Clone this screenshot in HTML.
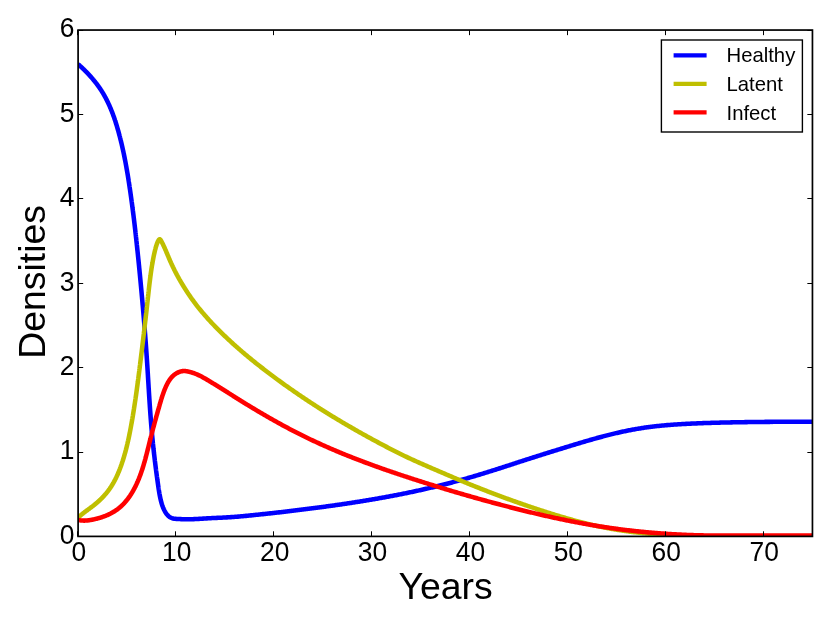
<!DOCTYPE html>
<html><head><meta charset="utf-8"><title>Densities vs Years</title>
<style>
html,body{margin:0;padding:0;background:#fff;}
body{width:830px;height:626px;overflow:hidden;}
svg{display:block;will-change:transform;}
text{font-family:"Liberation Sans",sans-serif;fill:#000;}
</style></head><body>
<svg width="830" height="626" viewBox="0 0 830 626">
<rect x="0" y="0" width="830" height="626" fill="#fff"/>
<defs><clipPath id="ax"><rect x="78.1" y="30.05" width="734.35" height="506.34999999999997"/></clipPath></defs>

<g clip-path="url(#ax)" fill="none" stroke-width="4.55" stroke-linejoin="round" stroke-linecap="butt">
<path d="M78.01 64.10 L78.38 64.43 L78.75 64.76 L79.12 65.08 L79.49 65.41 L79.85 65.75 L80.22 66.08 L80.59 66.41 L80.95 66.75 L81.31 67.09 L81.68 67.43 L82.04 67.77 L82.40 68.11 L82.76 68.45 L83.13 68.80 L83.48 69.14 L83.84 69.49 L84.20 69.84 L84.56 70.19 L84.91 70.54 L85.27 70.90 L85.62 71.25 L85.97 71.61 L86.33 71.97 L86.68 72.33 L87.03 72.69 L87.37 73.05 L87.72 73.41 L88.07 73.78 L88.41 74.14 L88.76 74.51 L89.10 74.88 L89.44 75.25 L89.78 75.62 L90.12 76.00 L90.45 76.37 L90.79 76.75 L91.12 77.12 L91.45 77.50 L91.78 77.88 L92.11 78.26 L92.44 78.65 L92.77 79.03 L93.09 79.42 L93.42 79.80 L93.74 80.19 L94.06 80.58 L94.38 80.97 L94.69 81.36 L95.01 81.76 L95.32 82.15 L95.63 82.55 L95.94 82.95 L96.25 83.34 L96.55 83.74 L96.86 84.15 L97.16 84.55 L97.46 84.95 L97.76 85.36 L98.06 85.76 L98.35 86.17 L98.64 86.58 L98.93 86.99 L99.22 87.40 L99.51 87.81 L99.79 88.23 L100.07 88.64 L100.35 89.06 L100.63 89.47 L100.90 89.89 L101.18 90.31 L101.45 90.73 L101.72 91.16 L101.98 91.58 L102.25 92.00 L102.51 92.43 L102.77 92.86 L103.03 93.29 L103.28 93.72 L103.54 94.15 L103.79 94.58 L104.04 95.01 L104.28 95.44 L104.53 95.88 L104.77 96.31 L105.01 96.75 L105.25 97.19 L105.49 97.63 L105.72 98.07 L105.95 98.51 L106.19 98.95 L106.41 99.39 L106.64 99.84 L106.87 100.28 L107.09 100.73 L107.31 101.18 L107.53 101.62 L107.75 102.07 L107.96 102.52 L108.18 102.97 L108.39 103.42 L108.60 103.87 L108.81 104.33 L109.02 104.78 L109.22 105.24 L109.42 105.69 L109.63 106.15 L109.83 106.61 L110.03 107.06 L110.22 107.52 L110.42 107.98 L110.61 108.44 L110.80 108.90 L110.99 109.36 L111.18 109.83 L111.37 110.29 L111.56 110.75 L111.74 111.22 L111.92 111.68 L112.10 112.15 L112.28 112.62 L112.46 113.08 L112.64 113.55 L112.81 114.02 L112.99 114.49 L113.16 114.96 L113.33 115.43 L113.50 115.90 L113.67 116.37 L113.84 116.84 L114.01 117.31 L114.17 117.79 L114.33 118.26 L114.50 118.73 L114.66 119.21 L114.82 119.68 L114.97 120.16 L115.13 120.63 L115.29 121.11 L115.44 121.59 L115.60 122.06 L115.75 122.54 L115.90 123.02 L116.05 123.50 L116.20 123.97 L116.35 124.45 L116.50 124.93 L116.64 125.41 L116.79 125.89 L116.93 126.37 L117.08 126.85 L117.22 127.33 L117.36 127.81 L117.50 128.30 L117.64 128.78 L117.78 129.26 L117.92 129.74 L118.05 130.22 L118.19 130.71 L118.33 131.19 L118.46 131.67 L118.59 132.15 L118.73 132.64 L118.86 133.12 L118.99 133.60 L119.12 134.09 L119.25 134.57 L119.38 135.06 L119.51 135.54 L119.63 136.03 L119.76 136.51 L119.89 136.99 L120.01 137.48 L120.14 137.96 L120.26 138.45 L120.38 138.94 L120.50 139.42 L120.62 139.91 L120.75 140.39 L120.87 140.88 L120.98 141.36 L121.10 141.85 L121.22 142.34 L121.34 142.82 L121.45 143.31 L121.57 143.80 L121.69 144.28 L121.80 144.77 L121.91 145.26 L122.03 145.75 L122.14 146.23 L122.25 146.72 L122.36 147.21 L122.47 147.70 L122.58 148.19 L122.69 148.67 L122.80 149.16 L122.91 149.65 L123.01 150.14 L123.12 150.63 L123.23 151.12 L123.33 151.61 L123.44 152.10 L123.54 152.59 L123.64 153.08 L123.75 153.57 L123.85 154.05 L123.95 154.54 L124.05 155.03 L124.15 155.52 L124.25 156.02 L124.35 156.51 L124.45 157.00 L124.55 157.49 L124.65 157.98 L124.74 158.47 L124.84 158.96 L124.94 159.45 L125.03 159.94 L125.13 160.43 L125.22 160.92 L125.32 161.41 L125.41 161.91 L125.50 162.40 L125.60 162.89 L125.69 163.38 L125.78 163.87 L125.87 164.36 L125.96 164.86 L126.05 165.35 L126.14 165.84 L126.23 166.33 L126.32 166.83 L126.41 167.32 L126.49 167.81 L126.58 168.30 L126.67 168.80 L126.75 169.29 L126.84 169.78 L126.93 170.28 L127.01 170.77 L127.10 171.26 L127.18 171.76 L127.26 172.25 L127.35 172.74 L127.43 173.24 L127.51 173.73 L127.60 174.22 L127.68 174.72 L127.76 175.21 L127.84 175.70 L127.92 176.20 L128.00 176.69 L128.08 177.19 L128.16 177.68 L128.24 178.17 L128.32 178.67 L128.40 179.16 L128.48 179.66 L128.56 180.15 L128.63 180.65 L128.71 181.14 L128.79 181.63 L128.86 182.13 L128.94 182.62 L129.02 183.12 L129.09 183.61 L129.17 184.11 L129.24 184.60 L129.32 185.10 L129.39 185.59 L129.47 186.09 L129.54 186.58 L129.61 187.08 L129.69 187.57 L129.76 188.07 L129.83 188.56 L129.91 189.06 L129.98 189.55 L130.05 190.05 L130.12 190.54 L130.20 191.04 L130.27 191.53 L130.34 192.03 L130.41 192.53 L130.48 193.02 L130.55 193.52 L130.62 194.01 L130.69 194.51 L130.76 195.00 L130.83 195.50 L130.90 195.99 L130.97 196.49 L131.04 196.99 L131.11 197.48 L131.18 197.98 L131.25 198.47 L131.32 198.97 L131.38 199.46 L131.45 199.96 L131.52 200.46 L131.59 200.95 L131.65 201.45 L131.72 201.94 L131.79 202.44 L131.86 202.94 L131.92 203.43 L131.99 203.93 L132.05 204.42 L132.12 204.92 L132.19 205.42 L132.25 205.91 L132.32 206.41 L132.38 206.90 L132.45 207.40 L132.51 207.90 L132.58 208.39 L132.64 208.89 L132.70 209.38 L132.77 209.88 L132.83 210.38 L132.90 210.87 L132.96 211.37 L133.02 211.87 L133.08 212.36 L133.15 212.86 L133.21 213.36 L133.27 213.85 L133.34 214.35 L133.40 214.85 L133.46 215.34 L133.52 215.84 L133.58 216.34 L133.64 216.83 L133.71 217.33 L133.77 217.83 L133.83 218.32 L133.89 218.82 L133.95 219.32 L134.01 219.81 L134.07 220.31 L134.13 220.81 L134.19 221.30 L134.25 221.80 L134.31 222.30 L134.37 222.79 L134.43 223.29 L134.49 223.79 L134.55 224.28 L134.60 224.78 L134.66 225.28 L134.72 225.78 L134.78 226.27 L134.84 226.77 L134.90 227.27 L134.95 227.76 L135.01 228.26 L135.07 228.76 L135.13 229.25 L135.18 229.75 L135.24 230.25 L135.30 230.75 L135.35 231.24 L135.41 231.74 L135.47 232.24 L135.52 232.74 L135.58 233.23 L135.64 233.73 L135.69 234.23 L135.75 234.72 L135.80 235.22 L135.86 235.72 L135.91 236.22 L135.97 236.71 L136.03 237.21 L136.08 237.71 L136.14 238.21 L136.19 238.70 L136.24 239.20 L136.30 239.70 L136.35 240.20 L136.41 240.69 L136.46 241.19 L136.52 241.69 L136.57 242.19 L136.62 242.68 L136.68 243.18 L136.73 243.68 L136.78 244.18 L136.84 244.67 L136.89 245.17 L136.94 245.67 L137.00 246.17 L137.05 246.66 L137.10 247.16 L137.16 247.66 L137.21 248.16 L137.26 248.65 L137.31 249.15 L137.36 249.65 L137.42 250.15 L137.47 250.65 L137.52 251.14 L137.57 251.64 L137.62 252.14 L137.68 252.64 L137.73 253.13 L137.78 253.63 L137.83 254.13 L137.88 254.63 L137.93 255.13 L137.98 255.62 L138.03 256.12 L138.09 256.62 L138.14 257.12 L138.19 257.62 L138.24 258.11 L138.29 258.61 L138.34 259.11 L138.39 259.61 L138.44 260.10 L138.49 260.60 L138.54 261.10 L138.59 261.60 L138.64 262.10 L138.69 262.59 L138.74 263.09 L138.79 263.59 L138.84 264.09 L138.89 264.59 L138.94 265.08 L138.99 265.58 L139.04 266.08 L139.09 266.58 L139.14 267.08 L139.18 267.57 L139.23 268.07 L139.28 268.57 L139.33 269.07 L139.38 269.57 L139.43 270.06 L139.48 270.56 L139.53 271.06 L139.58 271.56 L139.62 272.06 L139.67 272.56 L139.72 273.05 L139.77 273.55 L139.82 274.05 L139.87 274.55 L139.91 275.05 L139.96 275.54 L140.01 276.04 L140.06 276.54 L140.11 277.04 L140.15 277.54 L140.20 278.03 L140.25 278.53 L140.30 279.03 L140.34 279.53 L140.39 280.03 L140.44 280.52 L140.49 281.02 L140.53 281.52 L140.58 282.02 L140.63 282.52 L140.68 283.02 L140.72 283.51 L140.77 284.01 L140.82 284.51 L140.86 285.01 L140.91 285.51 L140.96 286.01 L141.00 286.50 L141.05 287.00 L141.10 287.50 L141.14 288.00 L141.19 288.50 L141.24 288.99 L141.28 289.49 L141.33 289.99 L141.37 290.49 L141.42 290.99 L141.47 291.49 L141.51 291.98 L141.56 292.48 L141.60 292.98 L141.65 293.48 L141.70 293.98 L141.74 294.48 L141.79 294.97 L141.83 295.47 L141.88 295.97 L141.92 296.47 L141.97 296.97 L142.01 297.47 L142.06 297.96 L142.10 298.46 L142.15 298.96 L142.19 299.46 L142.24 299.96 L142.28 300.46 L142.32 300.95 L142.37 301.45 L142.41 301.95 L142.46 302.45 L142.50 302.95 L142.55 303.45 L142.59 303.95 L142.63 304.44 L142.68 304.94 L142.72 305.44 L142.77 305.94 L142.81 306.44 L142.85 306.94 L142.90 307.43 L142.94 307.93 L142.98 308.43 L143.03 308.93 L143.07 309.43 L143.11 309.93 L143.15 310.43 L143.20 310.92 L143.24 311.42 L143.28 311.92 L143.32 312.42 L143.37 312.92 L143.41 313.42 L143.45 313.92 L143.49 314.41 L143.54 314.91 L143.58 315.41 L143.62 315.91 L143.66 316.41 L143.70 316.91 L143.75 317.41 L143.79 317.90 L143.83 318.40 L143.87 318.90 L143.91 319.40 L143.95 319.90 L143.99 320.40 L144.03 320.90 L144.08 321.40 L144.12 321.89 L144.16 322.39 L144.20 322.89 L144.24 323.39 L144.28 323.89 L144.32 324.39 L144.36 324.89 L144.40 325.39 L144.44 325.88 L144.48 326.38 L144.52 326.88 L144.56 327.38 L144.60 327.88 L144.64 328.38 L144.68 328.88 L144.72 329.38 L144.76 329.87 L144.80 330.37 L144.84 330.87 L144.87 331.37 L144.91 331.87 L144.95 332.37 L144.99 332.87 L145.03 333.37 L145.07 333.87 L145.11 334.36 L145.15 334.86 L145.18 335.36 L145.22 335.86 L145.26 336.36 L145.30 336.86 L145.34 337.36 L145.37 337.86 L145.41 338.36 L145.45 338.85 L145.49 339.35 L145.52 339.85 L145.56 340.35 L145.60 340.85 L145.63 341.35 L145.67 341.85 L145.71 342.35 L145.75 342.85 L145.78 343.35 L145.82 343.85 L145.85 344.34 L145.89 344.84 L145.93 345.34 L145.96 345.84 L146.00 346.34 L146.04 346.84 L146.07 347.34 L146.11 347.84 L146.14 348.34 L146.18 348.84 L146.21 349.34 L146.25 349.83 L146.28 350.33 L146.32 350.83 L146.35 351.33 L146.39 351.83 L146.42 352.33 L146.46 352.83 L146.49 353.33 L146.53 353.83 L146.56 354.33 L146.59 354.83 L146.63 355.33 L146.66 355.83 L146.70 356.33 L146.73 356.82 L146.76 357.32 L146.80 357.82 L146.83 358.32 L146.86 358.82 L146.90 359.32 L146.93 359.82 L146.96 360.32 L146.99 360.82 L147.03 361.32 L147.06 361.82 L147.09 362.32 L147.13 362.82 L147.16 363.32 L147.19 363.82 L147.22 364.32 L147.25 364.81 L147.29 365.31 L147.32 365.81 L147.35 366.31 L147.38 366.81 L147.41 367.31 L147.44 367.81 L147.48 368.31 L147.51 368.81 L147.54 369.31 L147.57 369.81 L147.60 370.31 L147.63 370.81 L147.66 371.31 L147.69 371.81 L147.72 372.31 L147.76 372.81 L147.79 373.31 L147.82 373.81 L147.85 374.31 L147.88 374.80 L147.91 375.30 L147.94 375.80 L147.97 376.30 L148.00 376.80 L148.03 377.30 L148.06 377.80 L148.09 378.30 L148.12 378.80 L148.15 379.30 L148.18 379.80 L148.22 380.30 L148.25 380.80 L148.28 381.30 L148.31 381.80 L148.34 382.30 L148.37 382.80 L148.40 383.30 L148.43 383.80 L148.46 384.30 L148.49 384.80 L148.52 385.30 L148.55 385.80 L148.58 386.29 L148.61 386.79 L148.64 387.29 L148.67 387.79 L148.70 388.29 L148.74 388.79 L148.77 389.29 L148.80 389.79 L148.83 390.29 L148.86 390.79 L148.89 391.29 L148.92 391.79 L148.95 392.29 L148.98 392.79 L149.01 393.29 L149.05 393.79 L149.08 394.29 L149.11 394.79 L149.14 395.29 L149.17 395.79 L149.20 396.28 L149.24 396.78 L149.27 397.28 L149.30 397.78 L149.33 398.28 L149.36 398.78 L149.40 399.28 L149.43 399.78 L149.46 400.28 L149.49 400.78 L149.53 401.28 L149.56 401.78 L149.59 402.28 L149.62 402.78 L149.66 403.28 L149.69 403.78 L149.72 404.27 L149.76 404.77 L149.79 405.27 L149.82 405.77 L149.86 406.27 L149.89 406.77 L149.93 407.27 L149.96 407.77 L149.99 408.27 L150.03 408.77 L150.06 409.27 L150.10 409.77 L150.13 410.27 L150.17 410.76 L150.20 411.26 L150.24 411.76 L150.27 412.26 L150.31 412.76 L150.35 413.26 L150.38 413.76 L150.42 414.26 L150.45 414.76 L150.49 415.26 L150.53 415.75 L150.57 416.25 L150.60 416.75 L150.64 417.25 L150.68 417.75 L150.71 418.25 L150.75 418.75 L150.79 419.25 L150.83 419.75 L150.87 420.24 L150.91 420.74 L150.95 421.24 L150.98 421.74 L151.02 422.24 L151.06 422.74 L151.10 423.24 L151.14 423.74 L151.18 424.23 L151.22 424.73 L151.26 425.23 L151.31 425.73 L151.35 426.23 L151.39 426.73 L151.43 427.23 L151.47 427.72 L151.51 428.22 L151.56 428.72 L151.60 429.22 L151.64 429.72 L151.68 430.22 L151.73 430.71 L151.77 431.21 L151.82 431.71 L151.86 432.21 L151.90 432.71 L151.95 433.21 L151.99 433.70 L152.04 434.20 L152.08 434.70 L152.13 435.20 L152.18 435.70 L152.22 436.19 L152.27 436.69 L152.32 437.19 L152.36 437.69 L152.41 438.19 L152.46 438.68 L152.51 439.18 L152.56 439.68 L152.61 440.18 L152.65 440.68 L152.70 441.17 L152.75 441.67 L152.80 442.17 L152.85 442.67 L152.90 443.17 L152.96 443.66 L153.01 444.16 L153.06 444.66 L153.11 445.16 L153.16 445.65 L153.21 446.15 L153.27 446.65 L153.32 447.15 L153.37 447.64 L153.43 448.14 L153.48 448.64 L153.53 449.14 L153.59 449.63 L153.64 450.13 L153.70 450.63 L153.75 451.12 L153.81 451.62 L153.87 452.12 L153.92 452.62 L153.98 453.11 L154.03 453.61 L154.09 454.11 L154.15 454.60 L154.21 455.10 L154.26 455.60 L154.32 456.10 L154.38 456.59 L154.44 457.09 L154.50 457.59 L154.56 458.08 L154.61 458.58 L154.67 459.08 L154.73 459.57 L154.79 460.07 L154.85 460.57 L154.91 461.07 L154.98 461.56 L155.04 462.06 L155.10 462.56 L155.16 463.05 L155.22 463.55 L155.28 464.05 L155.34 464.54 L155.41 465.04 L155.47 465.54 L155.53 466.03 L155.60 466.53 L155.66 467.03 L155.72 467.52 L155.79 468.02 L155.85 468.52 L155.91 469.01 L155.98 469.51 L156.04 470.01 L156.11 470.50 L156.17 471.00 L156.24 471.49 L156.30 471.99 L156.37 472.49 L156.44 472.98 L156.50 473.48 L156.57 473.98 L156.64 474.47 L156.70 474.97 L156.77 475.47 L156.84 475.96 L156.90 476.46 L156.97 476.95 L157.04 477.45 L157.11 477.95 L157.18 478.44 L157.25 478.94 L157.31 479.44 L157.38 479.93 L157.45 480.43 L157.52 480.92 L157.59 481.42 L157.66 481.92 L157.73 482.41 L157.80 482.91 L157.87 483.40 L157.94 483.90 L158.01 484.40 L158.08 484.89 L158.15 485.39 L158.22 485.88 L158.30 486.38 L158.37 486.88 L158.44 487.37 L158.51 487.87 L158.59 488.36 L158.66 488.86 L158.74 489.35 L158.81 489.85 L158.89 490.34 L158.97 490.84 L159.05 491.33 L159.13 491.83 L159.21 492.32 L159.30 492.81 L159.38 493.31 L159.47 493.80 L159.56 494.29 L159.65 494.78 L159.74 495.27 L159.84 495.76 L159.93 496.25 L160.03 496.74 L160.13 497.23 L160.24 497.72 L160.34 498.21 L160.45 498.70 L160.56 499.18 L160.67 499.67 L160.79 500.15 L160.91 500.64 L161.03 501.12 L161.16 501.61 L161.29 502.09 L161.42 502.57 L161.56 503.05 L161.70 503.53 L161.84 504.01 L161.99 504.48 L162.14 504.96 L162.30 505.43 L162.47 505.90 L162.64 506.37 L162.81 506.84 L162.99 507.31 L163.18 507.77 L163.38 508.23 L163.58 508.69 L163.78 509.15 L164.00 509.60 L164.22 510.06 L164.45 510.51 L164.69 510.95 L164.93 511.40 L165.19 511.84 L165.45 512.28 L165.72 512.71 L166.00 513.13 L166.29 513.55 L166.59 513.96 L166.90 514.35 L167.22 514.74 L167.55 515.11 L167.89 515.48 L168.25 515.82 L168.61 516.16 L168.99 516.47 L169.37 516.77 L169.77 517.05 L170.19 517.31 L170.61 517.56 L171.05 517.78 L171.50 517.98 L171.97 518.15 L172.44 518.30 L172.93 518.44 L173.43 518.55 L173.94 518.64 L174.45 518.72 L174.97 518.78 L175.50 518.83 L176.03 518.87 L176.56 518.90 L177.09 518.93 L177.62 518.95 L178.15 518.98 L178.67 519.01 L179.19 519.03 L179.70 519.06 L180.20 519.09 L180.70 519.12 L181.19 519.14 L181.66 519.16 L182.12 519.18 L182.57 519.20 L183.00 519.22 L184.00 519.25 L185.00 519.27 L186.00 519.28 L187.00 519.29 L188.00 519.29 L189.00 519.28 L190.00 519.26 L191.00 519.24 L192.00 519.21 L193.00 519.18 L194.00 519.14 L195.00 519.10 L196.00 519.05 L197.00 519.00 L198.00 518.95 L199.00 518.89 L200.00 518.83 L201.00 518.77 L202.00 518.71 L203.00 518.64 L204.00 518.58 L205.00 518.52 L206.00 518.45 L207.00 518.39 L208.00 518.33 L209.00 518.27 L210.00 518.21 L211.00 518.16 L212.00 518.10 L213.00 518.05 L214.00 518.01 L215.00 517.96 L216.00 517.92 L217.00 517.87 L218.00 517.83 L219.00 517.79 L220.00 517.74 L221.00 517.69 L222.00 517.65 L223.00 517.60 L224.00 517.55 L225.00 517.49 L226.00 517.44 L227.00 517.38 L228.00 517.31 L229.00 517.25 L230.00 517.18 L231.00 517.11 L232.00 517.05 L233.00 516.98 L234.00 516.91 L235.00 516.84 L236.00 516.77 L237.00 516.69 L238.00 516.61 L239.00 516.53 L240.00 516.44 L241.00 516.35 L242.00 516.26 L243.00 516.16 L244.00 516.07 L245.00 515.97 L246.00 515.88 L247.00 515.78 L248.00 515.68 L249.00 515.58 L250.00 515.48 L251.00 515.38 L252.00 515.28 L253.00 515.17 L254.00 515.07 L255.00 514.97 L256.00 514.86 L257.00 514.76 L258.00 514.65 L259.00 514.55 L260.00 514.44 L261.00 514.34 L262.00 514.23 L263.00 514.13 L264.00 514.02 L265.00 513.91 L266.00 513.80 L267.00 513.70 L268.00 513.59 L269.00 513.48 L270.00 513.37 L271.00 513.26 L272.00 513.15 L273.00 513.04 L274.00 512.93 L275.00 512.82 L276.00 512.71 L277.00 512.60 L278.00 512.48 L279.00 512.37 L280.00 512.26 L281.00 512.14 L282.00 512.03 L283.00 511.91 L284.00 511.80 L285.00 511.68 L286.00 511.56 L287.00 511.44 L288.00 511.32 L289.00 511.20 L290.00 511.08 L291.00 510.96 L292.00 510.84 L293.00 510.72 L294.00 510.60 L295.00 510.48 L296.00 510.35 L297.00 510.23 L298.00 510.11 L299.00 509.98 L300.00 509.86 L301.00 509.74 L302.00 509.61 L303.00 509.49 L304.00 509.36 L305.00 509.24 L306.00 509.11 L307.00 508.99 L308.00 508.86 L309.00 508.73 L310.00 508.61 L311.00 508.48 L312.00 508.35 L313.00 508.22 L314.00 508.09 L315.00 507.96 L316.00 507.83 L317.00 507.70 L318.00 507.57 L319.00 507.44 L320.00 507.31 L321.00 507.17 L322.00 507.04 L323.00 506.91 L324.00 506.77 L325.00 506.64 L326.00 506.50 L327.00 506.36 L328.00 506.23 L329.00 506.09 L330.00 505.95 L331.00 505.81 L332.00 505.67 L333.00 505.53 L334.00 505.39 L335.00 505.24 L336.00 505.10 L337.00 504.96 L338.00 504.81 L339.00 504.67 L340.00 504.52 L341.00 504.38 L342.00 504.23 L343.00 504.08 L344.00 503.94 L345.00 503.79 L346.00 503.64 L347.00 503.49 L348.00 503.34 L349.00 503.19 L350.00 503.03 L351.00 502.88 L352.00 502.73 L353.00 502.57 L354.00 502.42 L355.00 502.26 L356.00 502.11 L357.00 501.95 L358.00 501.79 L359.00 501.63 L360.00 501.47 L361.00 501.31 L362.00 501.15 L363.00 500.99 L364.00 500.83 L365.00 500.66 L366.00 500.50 L367.00 500.33 L368.00 500.17 L369.00 500.00 L370.00 499.83 L371.00 499.66 L372.00 499.50 L373.00 499.33 L374.00 499.15 L375.00 498.98 L376.00 498.81 L377.00 498.64 L378.00 498.46 L379.00 498.29 L380.00 498.11 L381.00 497.93 L382.00 497.76 L383.00 497.58 L384.00 497.40 L385.00 497.22 L386.00 497.04 L387.00 496.85 L388.00 496.67 L389.00 496.49 L390.00 496.30 L391.00 496.11 L392.00 495.93 L393.00 495.74 L394.00 495.55 L395.00 495.36 L396.00 495.16 L397.00 494.97 L398.00 494.78 L399.00 494.58 L400.00 494.38 L401.00 494.18 L402.00 493.98 L403.00 493.78 L404.00 493.58 L405.00 493.38 L406.00 493.17 L407.00 492.97 L408.00 492.76 L409.00 492.55 L410.00 492.34 L411.00 492.13 L412.00 491.92 L413.00 491.71 L414.00 491.49 L415.00 491.28 L416.00 491.06 L417.00 490.84 L418.00 490.62 L419.00 490.40 L420.00 490.18 L421.00 489.96 L422.00 489.73 L423.00 489.51 L424.00 489.28 L425.00 489.05 L426.00 488.83 L427.00 488.60 L428.00 488.36 L429.00 488.13 L430.00 487.90 L431.00 487.66 L432.00 487.43 L433.00 487.19 L434.00 486.95 L435.00 486.71 L436.00 486.47 L437.00 486.22 L438.00 485.98 L439.00 485.73 L440.00 485.49 L441.00 485.24 L442.00 484.99 L443.00 484.74 L444.00 484.49 L445.00 484.24 L446.00 483.98 L447.00 483.73 L448.00 483.47 L449.00 483.21 L450.00 482.96 L451.00 482.69 L452.00 482.43 L453.00 482.17 L454.00 481.90 L455.00 481.64 L456.00 481.37 L457.00 481.10 L458.00 480.83 L459.00 480.55 L460.00 480.28 L461.00 480.00 L462.00 479.72 L463.00 479.44 L464.00 479.16 L465.00 478.88 L466.00 478.60 L467.00 478.31 L468.00 478.02 L469.00 477.73 L470.00 477.44 L471.00 477.15 L472.00 476.86 L473.00 476.56 L474.00 476.27 L475.00 475.97 L476.00 475.67 L477.00 475.37 L478.00 475.07 L479.00 474.77 L480.00 474.47 L481.00 474.16 L482.00 473.86 L483.00 473.55 L484.00 473.24 L485.00 472.94 L486.00 472.63 L487.00 472.32 L488.00 472.00 L489.00 471.69 L490.00 471.38 L491.00 471.07 L492.00 470.75 L493.00 470.43 L494.00 470.12 L495.00 469.80 L496.00 469.48 L497.00 469.16 L498.00 468.85 L499.00 468.53 L500.00 468.21 L501.00 467.88 L502.00 467.56 L503.00 467.24 L504.00 466.92 L505.00 466.59 L506.00 466.27 L507.00 465.95 L508.00 465.62 L509.00 465.30 L510.00 464.97 L511.00 464.65 L512.00 464.32 L513.00 463.99 L514.00 463.67 L515.00 463.34 L516.00 463.01 L517.00 462.69 L518.00 462.36 L519.00 462.04 L520.00 461.71 L521.00 461.39 L522.00 461.06 L523.00 460.74 L524.00 460.42 L525.00 460.09 L526.00 459.77 L527.00 459.45 L528.00 459.13 L529.00 458.81 L530.00 458.48 L531.00 458.16 L532.00 457.84 L533.00 457.53 L534.00 457.21 L535.00 456.89 L536.00 456.57 L537.00 456.25 L538.00 455.94 L539.00 455.62 L540.00 455.30 L541.00 454.99 L542.00 454.67 L543.00 454.36 L544.00 454.04 L545.00 453.73 L546.00 453.41 L547.00 453.10 L548.00 452.79 L549.00 452.47 L550.00 452.16 L551.00 451.85 L552.00 451.54 L553.00 451.23 L554.00 450.92 L555.00 450.61 L556.00 450.30 L557.00 449.99 L558.00 449.68 L559.00 449.37 L560.00 449.06 L561.00 448.75 L562.00 448.45 L563.00 448.14 L564.00 447.83 L565.00 447.52 L566.00 447.22 L567.00 446.91 L568.00 446.61 L569.00 446.30 L570.00 446.00 L571.00 445.69 L572.00 445.39 L573.00 445.08 L574.00 444.78 L575.00 444.48 L576.00 444.18 L577.00 443.87 L578.00 443.57 L579.00 443.27 L580.00 442.97 L581.00 442.67 L582.00 442.38 L583.00 442.08 L584.00 441.78 L585.00 441.49 L586.00 441.19 L587.00 440.90 L588.00 440.61 L589.00 440.32 L590.00 440.03 L591.00 439.74 L592.00 439.46 L593.00 439.17 L594.00 438.89 L595.00 438.61 L596.00 438.33 L597.00 438.05 L598.00 437.77 L599.00 437.49 L600.00 437.22 L601.00 436.95 L602.00 436.68 L603.00 436.41 L604.00 436.15 L605.00 435.89 L606.00 435.63 L607.00 435.37 L608.00 435.11 L609.00 434.86 L610.00 434.61 L611.00 434.36 L612.00 434.11 L613.00 433.87 L614.00 433.63 L615.00 433.39 L616.00 433.15 L617.00 432.92 L618.00 432.69 L619.00 432.46 L620.00 432.24 L621.00 432.02 L622.00 431.80 L623.00 431.58 L624.00 431.37 L625.00 431.16 L626.00 430.95 L627.00 430.75 L628.00 430.55 L629.00 430.35 L630.00 430.15 L631.00 429.96 L632.00 429.77 L633.00 429.59 L634.00 429.40 L635.00 429.22 L636.00 429.05 L637.00 428.88 L638.00 428.71 L639.00 428.54 L640.00 428.38 L641.00 428.22 L642.00 428.06 L643.00 427.91 L644.00 427.76 L645.00 427.62 L646.00 427.47 L647.00 427.33 L648.00 427.20 L649.00 427.07 L650.00 426.93 L651.00 426.81 L652.00 426.68 L653.00 426.56 L654.00 426.44 L655.00 426.33 L656.00 426.22 L657.00 426.11 L658.00 426.00 L659.00 425.89 L660.00 425.79 L661.00 425.69 L662.00 425.59 L663.00 425.50 L664.00 425.41 L665.00 425.32 L666.00 425.23 L667.00 425.14 L668.00 425.06 L669.00 424.98 L670.00 424.90 L671.00 424.82 L672.00 424.75 L673.00 424.68 L674.00 424.60 L675.00 424.54 L676.00 424.47 L677.00 424.40 L678.00 424.34 L679.00 424.28 L680.00 424.22 L681.00 424.16 L682.00 424.10 L683.00 424.04 L684.00 423.99 L685.00 423.94 L686.00 423.88 L687.00 423.83 L688.00 423.78 L689.00 423.73 L690.00 423.68 L691.00 423.63 L692.00 423.59 L693.00 423.54 L694.00 423.50 L695.00 423.45 L696.00 423.41 L697.00 423.37 L698.00 423.33 L699.00 423.29 L700.00 423.25 L701.00 423.21 L702.00 423.17 L703.00 423.14 L704.00 423.10 L705.00 423.07 L706.00 423.03 L707.00 423.00 L708.00 422.97 L709.00 422.93 L710.00 422.90 L711.00 422.87 L712.00 422.84 L713.00 422.81 L714.00 422.78 L715.00 422.76 L716.00 422.73 L717.00 422.70 L718.00 422.67 L719.00 422.65 L720.00 422.62 L721.00 422.60 L722.00 422.57 L723.00 422.55 L724.00 422.53 L725.00 422.50 L726.00 422.48 L727.00 422.46 L728.00 422.44 L729.00 422.42 L730.00 422.40 L731.00 422.38 L732.00 422.36 L733.00 422.34 L734.00 422.33 L735.00 422.31 L736.00 422.29 L737.00 422.27 L738.00 422.25 L739.00 422.24 L740.00 422.22 L741.00 422.20 L742.00 422.19 L743.00 422.17 L744.00 422.15 L745.00 422.14 L746.00 422.12 L747.00 422.11 L748.00 422.09 L749.00 422.08 L750.00 422.06 L751.00 422.05 L752.00 422.03 L753.00 422.02 L754.00 422.01 L755.00 422.00 L756.00 421.98 L757.00 421.97 L758.00 421.96 L759.00 421.95 L760.00 421.94 L761.00 421.93 L762.00 421.92 L763.00 421.91 L764.00 421.90 L765.00 421.89 L766.00 421.88 L767.00 421.88 L768.00 421.87 L769.00 421.86 L770.00 421.86 L771.00 421.85 L772.00 421.85 L773.00 421.84 L774.00 421.84 L775.00 421.83 L776.00 421.83 L777.00 421.83 L778.00 421.82 L779.00 421.82 L780.00 421.82 L781.00 421.81 L782.00 421.81 L783.00 421.81 L784.00 421.81 L785.00 421.81 L786.00 421.80 L787.00 421.80 L788.00 421.80 L789.00 421.80 L790.00 421.80 L791.00 421.80 L792.00 421.80 L793.00 421.80 L794.00 421.80 L795.00 421.80 L796.00 421.80 L797.00 421.80 L798.00 421.80 L799.00 421.80 L800.00 421.80 L801.00 421.80 L802.00 421.80 L803.00 421.80 L804.00 421.80 L805.00 421.80 L806.00 421.80 L807.00 421.80 L808.00 421.80 L809.00 421.80 L810.00 421.80 L811.00 421.80 L812.00 421.80 L812.45 421.80" stroke="#0000ff"/>
<path d="M78.12 517.62 L78.48 517.28 L78.85 516.93 L79.22 516.59 L79.59 516.25 L79.97 515.92 L80.34 515.59 L80.72 515.27 L81.11 514.94 L81.49 514.62 L81.88 514.30 L82.26 513.99 L82.65 513.68 L83.05 513.36 L83.44 513.06 L83.84 512.75 L84.23 512.45 L84.63 512.14 L85.03 511.84 L85.43 511.54 L85.83 511.24 L86.23 510.94 L86.63 510.65 L87.03 510.35 L87.44 510.05 L87.84 509.76 L88.24 509.46 L88.65 509.17 L89.05 508.87 L89.45 508.58 L89.86 508.28 L90.26 507.98 L90.66 507.69 L91.06 507.39 L91.46 507.09 L91.86 506.79 L92.26 506.49 L92.66 506.18 L93.06 505.88 L93.45 505.57 L93.84 505.26 L94.24 504.95 L94.63 504.64 L95.02 504.32 L95.40 504.00 L95.79 503.68 L96.17 503.36 L96.55 503.04 L96.93 502.71 L97.31 502.38 L97.69 502.05 L98.06 501.72 L98.43 501.38 L98.80 501.05 L99.17 500.71 L99.54 500.36 L99.90 500.02 L100.27 499.67 L100.63 499.33 L100.98 498.98 L101.34 498.62 L101.69 498.27 L102.04 497.91 L102.39 497.55 L102.74 497.19 L103.08 496.83 L103.42 496.47 L103.76 496.10 L104.10 495.73 L104.43 495.36 L104.77 494.98 L105.09 494.61 L105.42 494.23 L105.75 493.85 L106.07 493.47 L106.38 493.08 L106.70 492.70 L107.01 492.31 L107.32 491.92 L107.63 491.52 L107.94 491.13 L108.24 490.73 L108.54 490.33 L108.83 489.93 L109.12 489.53 L109.41 489.12 L109.70 488.72 L109.98 488.31 L110.27 487.90 L110.54 487.48 L110.82 487.07 L111.09 486.65 L111.36 486.23 L111.63 485.81 L111.89 485.39 L112.15 484.96 L112.41 484.53 L112.66 484.11 L112.92 483.68 L113.17 483.25 L113.41 482.81 L113.66 482.38 L113.90 481.94 L114.14 481.50 L114.38 481.06 L114.61 480.62 L114.85 480.18 L115.08 479.74 L115.30 479.29 L115.53 478.84 L115.75 478.40 L115.97 477.95 L116.19 477.50 L116.41 477.05 L116.62 476.59 L116.83 476.14 L117.04 475.68 L117.25 475.23 L117.46 474.77 L117.66 474.31 L117.86 473.85 L118.06 473.39 L118.26 472.93 L118.45 472.47 L118.65 472.00 L118.84 471.54 L119.03 471.07 L119.21 470.61 L119.40 470.14 L119.58 469.67 L119.76 469.21 L119.95 468.74 L120.12 468.27 L120.30 467.80 L120.48 467.33 L120.65 466.85 L120.82 466.38 L120.99 465.91 L121.16 465.44 L121.33 464.96 L121.49 464.49 L121.66 464.02 L121.82 463.54 L121.98 463.07 L122.14 462.59 L122.30 462.12 L122.46 461.64 L122.61 461.16 L122.77 460.69 L122.92 460.21 L123.07 459.73 L123.22 459.25 L123.37 458.78 L123.52 458.30 L123.66 457.82 L123.81 457.34 L123.95 456.86 L124.10 456.38 L124.24 455.90 L124.38 455.42 L124.52 454.94 L124.65 454.46 L124.79 453.98 L124.92 453.50 L125.06 453.01 L125.19 452.53 L125.32 452.05 L125.45 451.57 L125.58 451.08 L125.71 450.60 L125.84 450.12 L125.96 449.63 L126.09 449.15 L126.21 448.67 L126.34 448.18 L126.46 447.70 L126.58 447.21 L126.70 446.73 L126.82 446.24 L126.94 445.75 L127.05 445.27 L127.17 444.78 L127.28 444.29 L127.40 443.81 L127.51 443.32 L127.63 442.83 L127.74 442.35 L127.85 441.86 L127.96 441.37 L128.07 440.88 L128.18 440.40 L128.28 439.91 L128.39 439.42 L128.50 438.93 L128.60 438.44 L128.70 437.95 L128.81 437.46 L128.91 436.97 L129.01 436.48 L129.12 435.99 L129.22 435.50 L129.32 435.01 L129.42 434.52 L129.51 434.03 L129.61 433.54 L129.71 433.05 L129.81 432.56 L129.90 432.07 L130.00 431.58 L130.10 431.09 L130.19 430.60 L130.28 430.11 L130.38 429.62 L130.47 429.13 L130.56 428.63 L130.66 428.14 L130.75 427.65 L130.84 427.16 L130.93 426.67 L131.02 426.17 L131.11 425.68 L131.20 425.19 L131.29 424.70 L131.38 424.21 L131.47 423.71 L131.56 423.22 L131.64 422.73 L131.73 422.24 L131.82 421.74 L131.91 421.25 L131.99 420.76 L132.08 420.27 L132.16 419.77 L132.25 419.28 L132.33 418.79 L132.42 418.30 L132.50 417.80 L132.59 417.31 L132.67 416.82 L132.75 416.32 L132.83 415.83 L132.92 415.34 L133.00 414.84 L133.08 414.35 L133.16 413.86 L133.24 413.36 L133.32 412.87 L133.40 412.38 L133.48 411.88 L133.56 411.39 L133.64 410.90 L133.72 410.40 L133.80 409.91 L133.88 409.41 L133.96 408.92 L134.04 408.43 L134.11 407.93 L134.19 407.44 L134.27 406.94 L134.35 406.45 L134.42 405.96 L134.50 405.46 L134.57 404.97 L134.65 404.47 L134.72 403.98 L134.80 403.48 L134.87 402.99 L134.95 402.49 L135.02 402.00 L135.10 401.50 L135.17 401.01 L135.24 400.52 L135.32 400.02 L135.39 399.53 L135.46 399.03 L135.54 398.54 L135.61 398.04 L135.68 397.55 L135.75 397.05 L135.82 396.56 L135.89 396.06 L135.96 395.57 L136.04 395.07 L136.11 394.58 L136.18 394.08 L136.25 393.59 L136.32 393.09 L136.39 392.59 L136.46 392.10 L136.53 391.60 L136.59 391.11 L136.66 390.61 L136.73 390.12 L136.80 389.62 L136.87 389.13 L136.94 388.63 L137.00 388.13 L137.07 387.64 L137.14 387.14 L137.21 386.65 L137.27 386.15 L137.34 385.66 L137.41 385.16 L137.47 384.66 L137.54 384.17 L137.61 383.67 L137.67 383.18 L137.74 382.68 L137.81 382.19 L137.87 381.69 L137.94 381.19 L138.00 380.70 L138.07 380.20 L138.13 379.71 L138.20 379.21 L138.26 378.71 L138.33 378.22 L138.39 377.72 L138.46 377.22 L138.52 376.73 L138.59 376.23 L138.65 375.74 L138.71 375.24 L138.78 374.74 L138.84 374.25 L138.90 373.75 L138.97 373.25 L139.03 372.76 L139.10 372.26 L139.16 371.77 L139.22 371.27 L139.28 370.77 L139.35 370.28 L139.41 369.78 L139.47 369.28 L139.54 368.79 L139.60 368.29 L139.66 367.80 L139.72 367.30 L139.79 366.80 L139.85 366.31 L139.91 365.81 L139.97 365.31 L140.04 364.82 L140.10 364.32 L140.16 363.82 L140.22 363.33 L140.28 362.83 L140.35 362.33 L140.41 361.84 L140.47 361.34 L140.53 360.84 L140.59 360.35 L140.65 359.85 L140.72 359.35 L140.78 358.86 L140.84 358.36 L140.90 357.87 L140.96 357.37 L141.02 356.87 L141.08 356.38 L141.15 355.88 L141.21 355.38 L141.27 354.89 L141.33 354.39 L141.39 353.89 L141.45 353.40 L141.51 352.90 L141.57 352.40 L141.63 351.91 L141.69 351.41 L141.75 350.91 L141.81 350.42 L141.87 349.92 L141.93 349.42 L141.99 348.93 L142.05 348.43 L142.11 347.93 L142.17 347.44 L142.23 346.94 L142.29 346.44 L142.35 345.95 L142.41 345.45 L142.47 344.95 L142.53 344.46 L142.59 343.96 L142.65 343.46 L142.71 342.97 L142.77 342.47 L142.83 341.97 L142.89 341.47 L142.95 340.98 L143.01 340.48 L143.07 339.98 L143.13 339.49 L143.19 338.99 L143.25 338.49 L143.31 338.00 L143.37 337.50 L143.42 337.00 L143.48 336.51 L143.54 336.01 L143.60 335.51 L143.66 335.02 L143.72 334.52 L143.78 334.02 L143.84 333.53 L143.89 333.03 L143.95 332.53 L144.01 332.04 L144.07 331.54 L144.13 331.04 L144.19 330.55 L144.24 330.05 L144.30 329.55 L144.36 329.05 L144.42 328.56 L144.48 328.06 L144.53 327.56 L144.59 327.07 L144.65 326.57 L144.71 326.07 L144.76 325.58 L144.82 325.08 L144.88 324.58 L144.94 324.09 L145.00 323.59 L145.05 323.09 L145.11 322.60 L145.17 322.10 L145.22 321.60 L145.28 321.10 L145.34 320.61 L145.40 320.11 L145.45 319.61 L145.51 319.12 L145.57 318.62 L145.62 318.12 L145.68 317.63 L145.74 317.13 L145.80 316.63 L145.85 316.14 L145.91 315.64 L145.97 315.14 L146.02 314.65 L146.08 314.15 L146.13 313.65 L146.19 313.15 L146.25 312.66 L146.30 312.16 L146.36 311.66 L146.42 311.17 L146.47 310.67 L146.53 310.17 L146.59 309.68 L146.64 309.18 L146.70 308.68 L146.75 308.19 L146.81 307.69 L146.87 307.19 L146.92 306.69 L146.98 306.20 L147.03 305.70 L147.09 305.20 L147.14 304.71 L147.20 304.21 L147.26 303.71 L147.31 303.22 L147.37 302.72 L147.42 302.22 L147.48 301.73 L147.53 301.23 L147.59 300.73 L147.64 300.23 L147.70 299.74 L147.75 299.24 L147.81 298.74 L147.86 298.25 L147.92 297.75 L147.97 297.25 L148.03 296.76 L148.08 296.26 L148.14 295.76 L148.19 295.27 L148.25 294.77 L148.30 294.27 L148.36 293.78 L148.41 293.28 L148.47 292.78 L148.52 292.28 L148.58 291.79 L148.63 291.29 L148.69 290.79 L148.75 290.30 L148.80 289.80 L148.86 289.30 L148.91 288.81 L148.97 288.31 L149.03 287.81 L149.08 287.32 L149.14 286.82 L149.20 286.32 L149.25 285.83 L149.31 285.33 L149.37 284.83 L149.43 284.34 L149.49 283.84 L149.55 283.34 L149.61 282.85 L149.67 282.35 L149.73 281.85 L149.79 281.36 L149.85 280.86 L149.91 280.37 L149.97 279.87 L150.03 279.37 L150.09 278.88 L150.16 278.38 L150.22 277.88 L150.28 277.39 L150.35 276.89 L150.41 276.40 L150.48 275.90 L150.55 275.41 L150.61 274.91 L150.68 274.41 L150.75 273.92 L150.82 273.42 L150.89 272.93 L150.96 272.43 L151.03 271.94 L151.10 271.44 L151.17 270.94 L151.24 270.45 L151.32 269.95 L151.39 269.46 L151.46 268.96 L151.54 268.47 L151.62 267.97 L151.69 267.48 L151.77 266.98 L151.85 266.49 L151.93 265.99 L152.01 265.50 L152.09 265.00 L152.17 264.51 L152.26 264.01 L152.34 263.52 L152.43 263.03 L152.51 262.53 L152.60 262.04 L152.69 261.54 L152.78 261.05 L152.87 260.55 L152.96 260.06 L153.05 259.57 L153.14 259.07 L153.23 258.58 L153.33 258.09 L153.43 257.59 L153.52 257.10 L153.62 256.61 L153.72 256.11 L153.82 255.62 L153.92 255.13 L154.03 254.64 L154.13 254.15 L154.24 253.66 L154.35 253.17 L154.46 252.68 L154.57 252.20 L154.68 251.71 L154.80 251.23 L154.92 250.74 L155.04 250.26 L155.16 249.78 L155.28 249.30 L155.41 248.83 L155.53 248.35 L155.66 247.88 L155.80 247.41 L155.93 246.94 L156.07 246.47 L156.21 246.01 L156.35 245.55 L156.49 245.09 L156.64 244.63 L156.79 244.17 L156.95 243.72 L157.12 243.25 L157.31 242.78 L157.52 242.29 L157.76 241.78 L158.02 241.25 L158.32 240.69 L158.66 240.13 L159.01 239.64 L159.36 239.29 L159.70 239.16 L160.02 239.28 L160.33 239.58 L160.61 240.00 L160.89 240.47 L161.16 240.93 L161.41 241.39 L161.67 241.85 L161.91 242.30 L162.15 242.76 L162.38 243.20 L162.61 243.65 L162.83 244.10 L163.05 244.55 L163.27 245.00 L163.48 245.45 L163.70 245.90 L163.91 246.35 L164.12 246.80 L164.32 247.25 L164.53 247.71 L164.73 248.17 L164.93 248.62 L165.13 249.08 L165.33 249.54 L165.53 250.00 L165.73 250.46 L165.93 250.92 L166.12 251.38 L166.32 251.84 L166.51 252.30 L166.70 252.76 L166.90 253.22 L167.09 253.68 L167.28 254.15 L167.47 254.61 L167.67 255.07 L167.86 255.53 L168.05 255.99 L168.25 256.46 L168.44 256.92 L168.63 257.38 L168.83 257.84 L169.02 258.30 L169.22 258.76 L169.42 259.22 L169.61 259.68 L169.81 260.14 L170.01 260.60 L170.21 261.06 L170.42 261.52 L170.62 261.97 L170.83 262.43 L171.03 262.89 L171.24 263.34 L171.45 263.80 L171.66 264.25 L171.87 264.70 L172.08 265.16 L172.29 265.61 L172.50 266.06 L172.72 266.51 L172.93 266.97 L173.15 267.42 L173.37 267.87 L173.59 268.31 L173.81 268.76 L174.03 269.21 L174.25 269.66 L174.47 270.11 L174.70 270.55 L174.92 271.00 L175.15 271.44 L175.38 271.89 L175.61 272.33 L175.84 272.78 L176.07 273.22 L176.30 273.66 L176.53 274.10 L176.77 274.54 L177.00 274.99 L177.24 275.43 L177.48 275.87 L177.72 276.30 L177.96 276.74 L178.20 277.18 L178.44 277.62 L178.68 278.06 L178.92 278.49 L179.17 278.93 L179.42 279.36 L179.66 279.80 L179.91 280.23 L180.16 280.66 L180.41 281.10 L180.66 281.53 L180.91 281.96 L181.17 282.39 L181.42 282.82 L181.68 283.25 L181.93 283.68 L182.19 284.11 L182.45 284.54 L182.71 284.97 L182.97 285.40 L183.23 285.82 L183.49 286.25 L183.76 286.67 L184.02 287.10 L184.29 287.52 L184.56 287.95 L184.82 288.37 L185.09 288.79 L185.36 289.22 L185.63 289.64 L185.90 290.06 L186.17 290.48 L186.45 290.90 L186.72 291.32 L186.99 291.74 L187.27 292.16 L187.54 292.58 L187.82 292.99 L188.10 293.41 L188.37 293.83 L188.65 294.24 L188.93 294.66 L189.21 295.07 L189.49 295.49 L189.77 295.90 L190.05 296.31 L190.34 296.72 L190.62 297.13 L190.90 297.54 L191.19 297.94 L191.47 298.35 L191.76 298.75 L192.04 299.15 L192.33 299.55 L192.61 299.95 L192.90 300.34 L193.19 300.73 L193.47 301.12 L193.76 301.51 L194.05 301.90 L194.34 302.29 L194.63 302.67 L194.92 303.05 L195.21 303.44 L195.50 303.82 L197.00 305.77 L198.00 307.05 L199.00 308.31 L200.00 309.55 L201.00 310.77 L202.00 311.97 L203.00 313.16 L204.00 314.33 L205.00 315.48 L206.00 316.62 L207.00 317.75 L208.00 318.87 L209.00 319.97 L210.00 321.05 L211.00 322.13 L212.00 323.20 L213.00 324.25 L214.00 325.30 L215.00 326.34 L216.00 327.36 L217.00 328.38 L218.00 329.40 L219.00 330.40 L220.00 331.39 L221.00 332.38 L222.00 333.36 L223.00 334.33 L224.00 335.30 L225.00 336.26 L226.00 337.21 L227.00 338.15 L228.00 339.09 L229.00 340.03 L230.00 340.95 L231.00 341.87 L232.00 342.79 L233.00 343.69 L234.00 344.59 L235.00 345.49 L236.00 346.38 L237.00 347.26 L238.00 348.14 L239.00 349.02 L240.00 349.89 L241.00 350.75 L242.00 351.61 L243.00 352.46 L244.00 353.31 L245.00 354.15 L246.00 354.99 L247.00 355.83 L248.00 356.66 L249.00 357.48 L250.00 358.31 L251.00 359.12 L252.00 359.94 L253.00 360.75 L254.00 361.55 L255.00 362.36 L256.00 363.16 L257.00 363.95 L258.00 364.75 L259.00 365.53 L260.00 366.32 L261.00 367.10 L262.00 367.89 L263.00 368.66 L264.00 369.44 L265.00 370.21 L266.00 370.98 L267.00 371.74 L268.00 372.51 L269.00 373.27 L270.00 374.02 L271.00 374.78 L272.00 375.53 L273.00 376.27 L274.00 377.02 L275.00 377.76 L276.00 378.50 L277.00 379.23 L278.00 379.97 L279.00 380.70 L280.00 381.42 L281.00 382.15 L282.00 382.87 L283.00 383.59 L284.00 384.31 L285.00 385.02 L286.00 385.74 L287.00 386.45 L288.00 387.15 L289.00 387.86 L290.00 388.56 L291.00 389.26 L292.00 389.96 L293.00 390.66 L294.00 391.35 L295.00 392.05 L296.00 392.73 L297.00 393.42 L298.00 394.11 L299.00 394.79 L300.00 395.47 L301.00 396.15 L302.00 396.82 L303.00 397.50 L304.00 398.17 L305.00 398.84 L306.00 399.50 L307.00 400.17 L308.00 400.83 L309.00 401.49 L310.00 402.15 L311.00 402.80 L312.00 403.46 L313.00 404.11 L314.00 404.76 L315.00 405.41 L316.00 406.05 L317.00 406.69 L318.00 407.33 L319.00 407.97 L320.00 408.61 L321.00 409.24 L322.00 409.88 L323.00 410.51 L324.00 411.13 L325.00 411.76 L326.00 412.38 L327.00 413.01 L328.00 413.63 L329.00 414.24 L330.00 414.86 L331.00 415.47 L332.00 416.08 L333.00 416.69 L334.00 417.30 L335.00 417.91 L336.00 418.51 L337.00 419.11 L338.00 419.71 L339.00 420.31 L340.00 420.91 L341.00 421.50 L342.00 422.09 L343.00 422.68 L344.00 423.27 L345.00 423.86 L346.00 424.45 L347.00 425.03 L348.00 425.61 L349.00 426.20 L350.00 426.78 L351.00 427.35 L352.00 427.93 L353.00 428.50 L354.00 429.08 L355.00 429.65 L356.00 430.22 L357.00 430.79 L358.00 431.36 L359.00 431.92 L360.00 432.49 L361.00 433.05 L362.00 433.61 L363.00 434.17 L364.00 434.73 L365.00 435.28 L366.00 435.84 L367.00 436.39 L368.00 436.94 L369.00 437.49 L370.00 438.04 L371.00 438.59 L372.00 439.13 L373.00 439.68 L374.00 440.22 L375.00 440.76 L376.00 441.30 L377.00 441.84 L378.00 442.37 L379.00 442.91 L380.00 443.44 L381.00 443.97 L382.00 444.50 L383.00 445.03 L384.00 445.56 L385.00 446.09 L386.00 446.61 L387.00 447.13 L388.00 447.66 L389.00 448.18 L390.00 448.69 L391.00 449.21 L392.00 449.73 L393.00 450.24 L394.00 450.75 L395.00 451.26 L396.00 451.77 L397.00 452.27 L398.00 452.77 L399.00 453.27 L400.00 453.76 L401.00 454.25 L402.00 454.74 L403.00 455.22 L404.00 455.70 L405.00 456.18 L406.00 456.66 L407.00 457.13 L408.00 457.60 L409.00 458.07 L410.00 458.53 L411.00 459.00 L412.00 459.46 L413.00 459.91 L414.00 460.37 L415.00 460.82 L416.00 461.28 L417.00 461.73 L418.00 462.17 L419.00 462.62 L420.00 463.07 L421.00 463.51 L422.00 463.95 L423.00 464.39 L424.00 464.83 L425.00 465.27 L426.00 465.70 L427.00 466.14 L428.00 466.57 L429.00 467.01 L430.00 467.44 L431.00 467.87 L432.00 468.30 L433.00 468.73 L434.00 469.16 L435.00 469.59 L436.00 470.02 L437.00 470.44 L438.00 470.87 L439.00 471.30 L440.00 471.73 L441.00 472.15 L442.00 472.58 L443.00 473.01 L444.00 473.44 L445.00 473.87 L446.00 474.29 L447.00 474.72 L448.00 475.15 L449.00 475.58 L450.00 476.01 L451.00 476.44 L452.00 476.87 L453.00 477.30 L454.00 477.73 L455.00 478.15 L456.00 478.57 L457.00 479.00 L458.00 479.42 L459.00 479.84 L460.00 480.26 L461.00 480.68 L462.00 481.09 L463.00 481.51 L464.00 481.92 L465.00 482.34 L466.00 482.75 L467.00 483.16 L468.00 483.57 L469.00 483.98 L470.00 484.38 L471.00 484.79 L472.00 485.19 L473.00 485.60 L474.00 486.00 L475.00 486.40 L476.00 486.80 L477.00 487.20 L478.00 487.60 L479.00 487.99 L480.00 488.39 L481.00 488.78 L482.00 489.17 L483.00 489.57 L484.00 489.96 L485.00 490.35 L486.00 490.74 L487.00 491.12 L488.00 491.51 L489.00 491.89 L490.00 492.28 L491.00 492.66 L492.00 493.04 L493.00 493.42 L494.00 493.80 L495.00 494.18 L496.00 494.56 L497.00 494.93 L498.00 495.31 L499.00 495.68 L500.00 496.06 L501.00 496.43 L502.00 496.80 L503.00 497.17 L504.00 497.54 L505.00 497.90 L506.00 498.27 L507.00 498.63 L508.00 499.00 L509.00 499.36 L510.00 499.72 L511.00 500.08 L512.00 500.44 L513.00 500.80 L514.00 501.15 L515.00 501.51 L516.00 501.86 L517.00 502.22 L518.00 502.57 L519.00 502.92 L520.00 503.27 L521.00 503.62 L522.00 503.97 L523.00 504.31 L524.00 504.66 L525.00 505.00 L526.00 505.35 L527.00 505.69 L528.00 506.03 L529.00 506.37 L530.00 506.71 L531.00 507.05 L532.00 507.38 L533.00 507.72 L534.00 508.05 L535.00 508.39 L536.00 508.72 L537.00 509.05 L538.00 509.38 L539.00 509.71 L540.00 510.04 L541.00 510.36 L542.00 510.69 L543.00 511.01 L544.00 511.34 L545.00 511.66 L546.00 511.98 L547.00 512.30 L548.00 512.62 L549.00 512.93 L550.00 513.25 L551.00 513.56 L552.00 513.88 L553.00 514.19 L554.00 514.50 L555.00 514.81 L556.00 515.11 L557.00 515.42 L558.00 515.72 L559.00 516.03 L560.00 516.33 L561.00 516.63 L562.00 516.92 L563.00 517.22 L564.00 517.51 L565.00 517.80 L566.00 518.09 L567.00 518.38 L568.00 518.67 L569.00 518.95 L570.00 519.23 L571.00 519.51 L572.00 519.79 L573.00 520.07 L574.00 520.34 L575.00 520.61 L576.00 520.88 L577.00 521.15 L578.00 521.42 L579.00 521.68 L580.00 521.94 L581.00 522.20 L582.00 522.46 L583.00 522.71 L584.00 522.96 L585.00 523.21 L586.00 523.46 L587.00 523.70 L588.00 523.94 L589.00 524.18 L590.00 524.42 L591.00 524.65 L592.00 524.88 L593.00 525.11 L594.00 525.34 L595.00 525.56 L596.00 525.78 L597.00 526.00 L598.00 526.21 L599.00 526.42 L600.00 526.63 L601.00 526.84 L602.00 527.04 L603.00 527.24 L604.00 527.44 L605.00 527.63 L606.00 527.82 L607.00 528.01 L608.00 528.20 L609.00 528.38 L610.00 528.56 L611.00 528.74 L612.00 528.92 L613.00 529.09 L614.00 529.26 L615.00 529.43 L616.00 529.59 L617.00 529.75 L618.00 529.91 L619.00 530.07 L620.00 530.22 L621.00 530.37 L622.00 530.52 L623.00 530.67 L624.00 530.81 L625.00 530.96 L626.00 531.10 L627.00 531.23 L628.00 531.37 L629.00 531.50 L630.00 531.63 L631.00 531.76 L632.00 531.88 L633.00 532.01 L634.00 532.13 L635.00 532.25 L636.00 532.36 L637.00 532.48 L638.00 532.59 L639.00 532.70 L640.00 532.81 L641.00 532.91 L642.00 533.02 L643.00 533.12 L644.00 533.22 L645.00 533.31 L646.00 533.41 L647.00 533.50 L648.00 533.59 L649.00 533.68 L650.00 533.77 L651.00 533.86 L652.00 533.94 L653.00 534.02 L654.00 534.10 L655.00 534.18 L656.00 534.26 L657.00 534.33 L658.00 534.40 L659.00 534.48 L660.00 534.55 L661.00 534.61 L662.00 534.68 L663.00 534.74 L664.00 534.81 L665.00 534.87 L666.00 534.93 L667.00 534.98 L668.00 535.04 L669.00 535.10 L670.00 535.15 L671.00 535.20 L672.00 535.25 L673.00 535.30 L674.00 535.35 L675.00 535.39 L676.00 535.44 L677.00 535.48 L678.00 535.52 L679.00 535.56 L680.00 535.60 L681.00 535.64 L682.00 535.67 L683.00 535.71 L684.00 535.74 L685.00 535.78 L686.00 535.81 L687.00 535.84 L688.00 535.87 L689.00 535.90 L690.00 535.92 L691.00 535.95 L692.00 535.97 L693.00 536.00 L694.00 536.02 L695.00 536.04 L696.00 536.06 L697.00 536.08 L698.00 536.10 L699.00 536.12 L700.00 536.13 L701.00 536.15 L702.00 536.16 L703.00 536.18 L704.00 536.19 L705.00 536.20 L706.00 536.21 L707.00 536.22 L708.00 536.23 L709.00 536.24 L710.00 536.25 L711.00 536.26 L712.00 536.26 L713.00 536.27 L714.00 536.27 L715.00 536.28 L716.00 536.28 L717.00 536.28 L718.00 536.29 L719.00 536.29 L720.00 536.29 L721.00 536.29 L722.00 536.29 L723.00 536.29 L724.00 536.29 L725.00 536.29 L726.00 536.29 L727.00 536.29 L728.00 536.29 L729.00 536.29 L730.00 536.29 L731.00 536.29 L732.00 536.29 L733.00 536.29 L734.00 536.29 L735.00 536.29 L736.00 536.29 L737.00 536.29 L738.00 536.29 L739.00 536.29 L740.00 536.29 L741.00 536.29 L742.00 536.29 L743.00 536.29 L744.00 536.29 L745.00 536.29 L746.00 536.29 L747.00 536.29 L748.00 536.29 L749.00 536.29 L750.00 536.29 L751.00 536.29 L752.00 536.29 L753.00 536.29 L754.00 536.29 L755.00 536.29 L756.00 536.29 L757.00 536.29 L758.00 536.29 L759.00 536.29 L760.00 536.29 L761.00 536.29 L762.00 536.29 L763.00 536.29 L764.00 536.29 L765.00 536.29 L766.00 536.29 L767.00 536.29 L768.00 536.29 L769.00 536.29 L770.00 536.29 L771.00 536.29 L772.00 536.29 L773.00 536.29 L774.00 536.29 L775.00 536.29 L776.00 536.29 L777.00 536.29 L778.00 536.29 L779.00 536.29 L780.00 536.29 L781.00 536.29 L782.00 536.29 L783.00 536.29 L784.00 536.29 L785.00 536.29 L786.00 536.29 L787.00 536.29 L788.00 536.29 L789.00 536.29 L790.00 536.29 L791.00 536.29 L792.00 536.29 L793.00 536.29 L794.00 536.29 L795.00 536.29 L796.00 536.29 L797.00 536.29 L798.00 536.29 L799.00 536.29 L800.00 536.29 L801.00 536.29 L802.00 536.29 L803.00 536.29 L804.00 536.29 L805.00 536.29 L806.00 536.29 L807.00 536.29 L808.00 536.29 L809.00 536.29 L810.00 536.29 L811.00 536.29 L812.00 536.29 L812.45 536.30" stroke="#bfbf00"/>
<path d="M78.08 520.00 L78.61 520.10 L79.13 520.20 L79.64 520.28 L80.16 520.36 L80.67 520.42 L81.17 520.47 L81.68 520.52 L82.18 520.56 L82.68 520.58 L83.18 520.60 L83.68 520.61 L84.17 520.61 L84.66 520.61 L85.15 520.60 L85.64 520.58 L86.13 520.55 L86.62 520.51 L87.10 520.47 L87.59 520.43 L88.07 520.37 L88.56 520.32 L89.04 520.25 L89.52 520.18 L90.00 520.11 L90.49 520.03 L90.97 519.95 L91.45 519.86 L91.93 519.77 L92.42 519.67 L92.90 519.57 L93.39 519.47 L93.87 519.37 L94.36 519.26 L94.84 519.15 L95.33 519.03 L95.82 518.91 L96.31 518.79 L96.79 518.67 L97.28 518.54 L97.77 518.41 L98.26 518.27 L98.75 518.13 L99.23 517.99 L99.72 517.85 L100.21 517.70 L100.69 517.55 L101.18 517.39 L101.66 517.23 L102.15 517.07 L102.63 516.90 L103.11 516.73 L103.59 516.56 L104.07 516.38 L104.55 516.20 L105.03 516.01 L105.50 515.83 L105.97 515.63 L106.45 515.44 L106.92 515.24 L107.38 515.04 L107.85 514.83 L108.32 514.62 L108.78 514.40 L109.24 514.19 L109.70 513.96 L110.15 513.74 L110.61 513.51 L111.06 513.27 L111.50 513.03 L111.95 512.79 L112.39 512.55 L112.83 512.30 L113.27 512.04 L113.70 511.78 L114.13 511.52 L114.56 511.26 L114.98 510.99 L115.40 510.71 L115.82 510.43 L116.23 510.15 L116.64 509.86 L117.04 509.57 L117.45 509.28 L117.84 508.98 L118.24 508.67 L118.63 508.37 L119.02 508.06 L119.40 507.74 L119.78 507.42 L120.16 507.10 L120.53 506.77 L120.90 506.44 L121.26 506.11 L121.63 505.77 L121.99 505.43 L122.34 505.09 L122.69 504.74 L123.04 504.39 L123.39 504.04 L123.73 503.68 L124.07 503.32 L124.41 502.96 L124.74 502.59 L125.07 502.22 L125.39 501.85 L125.72 501.47 L126.04 501.10 L126.35 500.71 L126.67 500.33 L126.98 499.94 L127.29 499.55 L127.59 499.16 L127.89 498.77 L128.19 498.37 L128.49 497.97 L128.78 497.57 L129.07 497.16 L129.35 496.75 L129.64 496.34 L129.92 495.93 L130.20 495.52 L130.47 495.10 L130.75 494.68 L131.02 494.26 L131.28 493.84 L131.55 493.41 L131.81 492.99 L132.07 492.56 L132.33 492.13 L132.58 491.70 L132.83 491.26 L133.08 490.83 L133.33 490.39 L133.57 489.95 L133.81 489.51 L134.05 489.07 L134.28 488.63 L134.52 488.18 L134.75 487.74 L134.98 487.29 L135.21 486.84 L135.43 486.39 L135.65 485.94 L135.87 485.49 L136.09 485.03 L136.30 484.58 L136.52 484.13 L136.73 483.67 L136.94 483.21 L137.14 482.75 L137.35 482.30 L137.55 481.84 L137.75 481.38 L137.95 480.92 L138.14 480.45 L138.33 479.99 L138.53 479.53 L138.72 479.07 L138.90 478.60 L139.09 478.14 L139.27 477.67 L139.46 477.20 L139.64 476.74 L139.82 476.27 L139.99 475.80 L140.17 475.33 L140.34 474.86 L140.51 474.39 L140.68 473.92 L140.85 473.45 L141.02 472.98 L141.18 472.51 L141.35 472.03 L141.51 471.56 L141.67 471.09 L141.83 470.61 L141.99 470.14 L142.15 469.66 L142.30 469.19 L142.45 468.71 L142.61 468.23 L142.76 467.76 L142.91 467.28 L143.06 466.80 L143.20 466.32 L143.35 465.84 L143.49 465.36 L143.64 464.88 L143.78 464.40 L143.92 463.92 L144.06 463.44 L144.20 462.96 L144.34 462.48 L144.48 462.00 L144.62 461.51 L144.75 461.03 L144.89 460.55 L145.02 460.07 L145.15 459.58 L145.29 459.10 L145.42 458.61 L145.55 458.13 L145.68 457.65 L145.81 457.16 L145.94 456.68 L146.06 456.19 L146.19 455.71 L146.32 455.22 L146.44 454.73 L146.57 454.25 L146.70 453.76 L146.82 453.28 L146.94 452.79 L147.07 452.30 L147.19 451.82 L147.31 451.33 L147.44 450.84 L147.56 450.36 L147.68 449.87 L147.80 449.38 L147.92 448.90 L148.05 448.41 L148.17 447.92 L148.29 447.44 L148.41 446.95 L148.53 446.46 L148.65 445.97 L148.77 445.49 L148.89 445.00 L149.01 444.51 L149.13 444.03 L149.25 443.54 L149.37 443.05 L149.49 442.57 L149.61 442.08 L149.74 441.59 L149.86 441.11 L149.98 440.62 L150.10 440.13 L150.22 439.65 L150.34 439.16 L150.47 438.68 L150.59 438.19 L150.71 437.71 L150.84 437.22 L150.96 436.74 L151.08 436.25 L151.21 435.77 L151.33 435.28 L151.46 434.80 L151.58 434.31 L151.71 433.83 L151.83 433.34 L151.96 432.86 L152.09 432.38 L152.21 431.89 L152.34 431.41 L152.47 430.93 L152.59 430.44 L152.72 429.96 L152.85 429.48 L152.98 428.99 L153.10 428.51 L153.23 428.03 L153.36 427.54 L153.49 427.06 L153.62 426.58 L153.75 426.10 L153.88 425.61 L154.01 425.13 L154.14 424.65 L154.27 424.17 L154.40 423.68 L154.53 423.20 L154.66 422.72 L154.79 422.24 L154.92 421.76 L155.06 421.28 L155.19 420.79 L155.32 420.31 L155.45 419.83 L155.58 419.35 L155.72 418.87 L155.85 418.39 L155.98 417.91 L156.12 417.42 L156.25 416.94 L156.38 416.46 L156.52 415.98 L156.65 415.50 L156.78 415.02 L156.92 414.54 L157.05 414.06 L157.19 413.58 L157.32 413.10 L157.46 412.61 L157.59 412.13 L157.73 411.65 L157.86 411.17 L158.00 410.69 L158.14 410.21 L158.27 409.73 L158.41 409.25 L158.54 408.77 L158.68 408.29 L158.82 407.81 L158.95 407.33 L159.09 406.85 L159.23 406.37 L159.36 405.88 L159.50 405.40 L159.64 404.92 L159.78 404.44 L159.92 403.96 L160.05 403.48 L160.19 403.00 L160.33 402.52 L160.47 402.04 L160.62 401.56 L160.76 401.08 L160.90 400.60 L161.04 400.12 L161.19 399.64 L161.34 399.17 L161.48 398.69 L161.63 398.21 L161.78 397.73 L161.93 397.26 L162.09 396.78 L162.24 396.30 L162.40 395.83 L162.56 395.35 L162.72 394.88 L162.88 394.41 L163.04 393.93 L163.21 393.46 L163.38 392.99 L163.55 392.52 L163.72 392.05 L163.89 391.58 L164.07 391.11 L164.25 390.64 L164.43 390.17 L164.62 389.70 L164.81 389.24 L165.00 388.77 L165.19 388.31 L165.39 387.84 L165.59 387.38 L165.79 386.92 L165.99 386.46 L166.20 386.00 L166.42 385.54 L166.63 385.09 L166.85 384.63 L167.08 384.18 L167.31 383.73 L167.54 383.29 L167.78 382.85 L168.03 382.41 L168.28 381.97 L168.53 381.54 L168.79 381.11 L169.06 380.69 L169.33 380.27 L169.61 379.86 L169.90 379.45 L170.19 379.05 L170.49 378.65 L170.80 378.26 L171.12 377.88 L171.44 377.50 L171.77 377.13 L172.11 376.77 L172.45 376.41 L172.81 376.06 L173.17 375.72 L173.55 375.39 L173.93 375.07 L174.32 374.75 L174.72 374.45 L175.13 374.15 L175.55 373.87 L175.98 373.59 L176.41 373.33 L176.86 373.08 L177.30 372.83 L177.76 372.61 L178.22 372.39 L178.69 372.19 L179.16 372.00 L179.63 371.83 L180.11 371.67 L180.60 371.53 L181.09 371.40 L181.58 371.29 L182.07 371.20 L182.56 371.12 L183.06 371.07 L183.55 371.03 L184.05 371.01 L184.55 371.01 L185.05 371.03 L185.54 371.07 L186.04 371.14 L186.53 371.22 L187.03 371.32 L187.52 371.42 L188.01 371.54 L188.50 371.66 L188.99 371.78 L189.48 371.90 L189.97 372.03 L190.45 372.16 L190.94 372.29 L191.42 372.42 L191.90 372.55 L192.39 372.69 L192.87 372.84 L193.35 373.00 L193.83 373.17 L195.00 373.61 L196.00 374.01 L197.00 374.43 L198.00 374.88 L199.00 375.34 L200.00 375.83 L201.00 376.33 L202.00 376.85 L203.00 377.39 L204.00 377.94 L205.00 378.50 L206.00 379.08 L207.00 379.67 L208.00 380.26 L209.00 380.86 L210.00 381.47 L211.00 382.08 L212.00 382.69 L213.00 383.31 L214.00 383.93 L215.00 384.55 L216.00 385.17 L217.00 385.79 L218.00 386.41 L219.00 387.04 L220.00 387.66 L221.00 388.28 L222.00 388.90 L223.00 389.53 L224.00 390.15 L225.00 390.78 L226.00 391.41 L227.00 392.04 L228.00 392.67 L229.00 393.30 L230.00 393.93 L231.00 394.56 L232.00 395.19 L233.00 395.82 L234.00 396.46 L235.00 397.09 L236.00 397.72 L237.00 398.34 L238.00 398.97 L239.00 399.60 L240.00 400.22 L241.00 400.85 L242.00 401.47 L243.00 402.09 L244.00 402.71 L245.00 403.33 L246.00 403.94 L247.00 404.56 L248.00 405.17 L249.00 405.78 L250.00 406.39 L251.00 406.99 L252.00 407.60 L253.00 408.20 L254.00 408.81 L255.00 409.41 L256.00 410.00 L257.00 410.60 L258.00 411.20 L259.00 411.79 L260.00 412.38 L261.00 412.97 L262.00 413.56 L263.00 414.14 L264.00 414.73 L265.00 415.31 L266.00 415.89 L267.00 416.47 L268.00 417.04 L269.00 417.61 L270.00 418.19 L271.00 418.76 L272.00 419.32 L273.00 419.89 L274.00 420.45 L275.00 421.01 L276.00 421.57 L277.00 422.13 L278.00 422.68 L279.00 423.24 L280.00 423.79 L281.00 424.34 L282.00 424.88 L283.00 425.43 L284.00 425.97 L285.00 426.51 L286.00 427.04 L287.00 427.58 L288.00 428.11 L289.00 428.64 L290.00 429.17 L291.00 429.69 L292.00 430.22 L293.00 430.74 L294.00 431.25 L295.00 431.77 L296.00 432.28 L297.00 432.79 L298.00 433.30 L299.00 433.81 L300.00 434.31 L301.00 434.81 L302.00 435.31 L303.00 435.80 L304.00 436.29 L305.00 436.78 L306.00 437.27 L307.00 437.76 L308.00 438.24 L309.00 438.72 L310.00 439.20 L311.00 439.68 L312.00 440.15 L313.00 440.62 L314.00 441.09 L315.00 441.56 L316.00 442.02 L317.00 442.48 L318.00 442.94 L319.00 443.40 L320.00 443.86 L321.00 444.31 L322.00 444.76 L323.00 445.21 L324.00 445.66 L325.00 446.10 L326.00 446.55 L327.00 446.99 L328.00 447.43 L329.00 447.86 L330.00 448.30 L331.00 448.73 L332.00 449.16 L333.00 449.59 L334.00 450.02 L335.00 450.44 L336.00 450.86 L337.00 451.29 L338.00 451.71 L339.00 452.12 L340.00 452.54 L341.00 452.95 L342.00 453.37 L343.00 453.78 L344.00 454.18 L345.00 454.59 L346.00 455.00 L347.00 455.40 L348.00 455.80 L349.00 456.20 L350.00 456.60 L351.00 456.99 L352.00 457.39 L353.00 457.78 L354.00 458.17 L355.00 458.56 L356.00 458.95 L357.00 459.34 L358.00 459.72 L359.00 460.10 L360.00 460.49 L361.00 460.87 L362.00 461.24 L363.00 461.62 L364.00 462.00 L365.00 462.37 L366.00 462.75 L367.00 463.12 L368.00 463.49 L369.00 463.86 L370.00 464.22 L371.00 464.59 L372.00 464.95 L373.00 465.32 L374.00 465.68 L375.00 466.04 L376.00 466.40 L377.00 466.76 L378.00 467.12 L379.00 467.47 L380.00 467.83 L381.00 468.18 L382.00 468.53 L383.00 468.89 L384.00 469.24 L385.00 469.59 L386.00 469.93 L387.00 470.28 L388.00 470.63 L389.00 470.97 L390.00 471.32 L391.00 471.66 L392.00 472.00 L393.00 472.34 L394.00 472.68 L395.00 473.02 L396.00 473.36 L397.00 473.70 L398.00 474.04 L399.00 474.37 L400.00 474.71 L401.00 475.04 L402.00 475.38 L403.00 475.71 L404.00 476.04 L405.00 476.37 L406.00 476.70 L407.00 477.03 L408.00 477.36 L409.00 477.68 L410.00 478.01 L411.00 478.34 L412.00 478.66 L413.00 478.98 L414.00 479.31 L415.00 479.63 L416.00 479.95 L417.00 480.27 L418.00 480.59 L419.00 480.91 L420.00 481.22 L421.00 481.54 L422.00 481.86 L423.00 482.17 L424.00 482.49 L425.00 482.80 L426.00 483.12 L427.00 483.43 L428.00 483.74 L429.00 484.05 L430.00 484.36 L431.00 484.67 L432.00 484.98 L433.00 485.29 L434.00 485.60 L435.00 485.91 L436.00 486.21 L437.00 486.52 L438.00 486.83 L439.00 487.13 L440.00 487.44 L441.00 487.74 L442.00 488.05 L443.00 488.35 L444.00 488.65 L445.00 488.95 L446.00 489.26 L447.00 489.56 L448.00 489.86 L449.00 490.16 L450.00 490.46 L451.00 490.76 L452.00 491.06 L453.00 491.36 L454.00 491.65 L455.00 491.95 L456.00 492.25 L457.00 492.54 L458.00 492.84 L459.00 493.13 L460.00 493.42 L461.00 493.72 L462.00 494.01 L463.00 494.30 L464.00 494.59 L465.00 494.88 L466.00 495.17 L467.00 495.45 L468.00 495.74 L469.00 496.03 L470.00 496.31 L471.00 496.60 L472.00 496.88 L473.00 497.17 L474.00 497.45 L475.00 497.73 L476.00 498.02 L477.00 498.30 L478.00 498.58 L479.00 498.86 L480.00 499.13 L481.00 499.41 L482.00 499.69 L483.00 499.97 L484.00 500.24 L485.00 500.52 L486.00 500.79 L487.00 501.07 L488.00 501.34 L489.00 501.61 L490.00 501.89 L491.00 502.16 L492.00 502.43 L493.00 502.70 L494.00 502.97 L495.00 503.23 L496.00 503.50 L497.00 503.77 L498.00 504.04 L499.00 504.30 L500.00 504.57 L501.00 504.83 L502.00 505.10 L503.00 505.36 L504.00 505.62 L505.00 505.88 L506.00 506.14 L507.00 506.40 L508.00 506.66 L509.00 506.92 L510.00 507.18 L511.00 507.44 L512.00 507.70 L513.00 507.95 L514.00 508.21 L515.00 508.46 L516.00 508.71 L517.00 508.97 L518.00 509.22 L519.00 509.47 L520.00 509.72 L521.00 509.97 L522.00 510.22 L523.00 510.47 L524.00 510.71 L525.00 510.96 L526.00 511.20 L527.00 511.45 L528.00 511.69 L529.00 511.93 L530.00 512.18 L531.00 512.42 L532.00 512.66 L533.00 512.90 L534.00 513.13 L535.00 513.37 L536.00 513.61 L537.00 513.84 L538.00 514.08 L539.00 514.31 L540.00 514.54 L541.00 514.77 L542.00 515.00 L543.00 515.23 L544.00 515.46 L545.00 515.69 L546.00 515.91 L547.00 516.14 L548.00 516.36 L549.00 516.59 L550.00 516.81 L551.00 517.03 L552.00 517.25 L553.00 517.47 L554.00 517.69 L555.00 517.90 L556.00 518.12 L557.00 518.33 L558.00 518.55 L559.00 518.76 L560.00 518.97 L561.00 519.18 L562.00 519.39 L563.00 519.59 L564.00 519.80 L565.00 520.01 L566.00 520.21 L567.00 520.41 L568.00 520.61 L569.00 520.82 L570.00 521.01 L571.00 521.21 L572.00 521.41 L573.00 521.60 L574.00 521.80 L575.00 521.99 L576.00 522.18 L577.00 522.37 L578.00 522.56 L579.00 522.75 L580.00 522.94 L581.00 523.12 L582.00 523.31 L583.00 523.49 L584.00 523.67 L585.00 523.85 L586.00 524.03 L587.00 524.21 L588.00 524.38 L589.00 524.56 L590.00 524.73 L591.00 524.90 L592.00 525.08 L593.00 525.24 L594.00 525.41 L595.00 525.58 L596.00 525.74 L597.00 525.91 L598.00 526.07 L599.00 526.23 L600.00 526.39 L601.00 526.55 L602.00 526.70 L603.00 526.86 L604.00 527.01 L605.00 527.16 L606.00 527.31 L607.00 527.46 L608.00 527.61 L609.00 527.76 L610.00 527.90 L611.00 528.04 L612.00 528.19 L613.00 528.33 L614.00 528.47 L615.00 528.60 L616.00 528.74 L617.00 528.87 L618.00 529.01 L619.00 529.14 L620.00 529.27 L621.00 529.40 L622.00 529.53 L623.00 529.65 L624.00 529.78 L625.00 529.90 L626.00 530.02 L627.00 530.14 L628.00 530.26 L629.00 530.38 L630.00 530.50 L631.00 530.61 L632.00 530.73 L633.00 530.84 L634.00 530.95 L635.00 531.06 L636.00 531.17 L637.00 531.27 L638.00 531.38 L639.00 531.48 L640.00 531.58 L641.00 531.69 L642.00 531.79 L643.00 531.88 L644.00 531.98 L645.00 532.08 L646.00 532.17 L647.00 532.27 L648.00 532.36 L649.00 532.45 L650.00 532.54 L651.00 532.62 L652.00 532.71 L653.00 532.80 L654.00 532.88 L655.00 532.96 L656.00 533.04 L657.00 533.12 L658.00 533.20 L659.00 533.28 L660.00 533.35 L661.00 533.43 L662.00 533.50 L663.00 533.57 L664.00 533.64 L665.00 533.71 L666.00 533.78 L667.00 533.85 L668.00 533.91 L669.00 533.98 L670.00 534.04 L671.00 534.10 L672.00 534.16 L673.00 534.22 L674.00 534.27 L675.00 534.33 L676.00 534.39 L677.00 534.44 L678.00 534.49 L679.00 534.54 L680.00 534.59 L681.00 534.64 L682.00 534.69 L683.00 534.73 L684.00 534.78 L685.00 534.82 L686.00 534.86 L687.00 534.90 L688.00 534.94 L689.00 534.98 L690.00 535.02 L691.00 535.05 L692.00 535.09 L693.00 535.12 L694.00 535.15 L695.00 535.18 L696.00 535.21 L697.00 535.24 L698.00 535.27 L699.00 535.30 L700.00 535.32 L701.00 535.34 L702.00 535.37 L703.00 535.39 L704.00 535.41 L705.00 535.42 L706.00 535.44 L707.00 535.46 L708.00 535.47 L709.00 535.49 L710.00 535.50 L711.00 535.51 L712.00 535.52 L713.00 535.53 L714.00 535.54 L715.00 535.55 L716.00 535.56 L717.00 535.57 L718.00 535.57 L719.00 535.58 L720.00 535.58 L721.00 535.58 L722.00 535.59 L723.00 535.59 L724.00 535.59 L725.00 535.59 L726.00 535.59 L727.00 535.59 L728.00 535.59 L729.00 535.59 L730.00 535.59 L731.00 535.59 L732.00 535.59 L733.00 535.59 L734.00 535.59 L735.00 535.59 L736.00 535.59 L737.00 535.59 L738.00 535.59 L739.00 535.59 L740.00 535.59 L741.00 535.59 L742.00 535.59 L743.00 535.59 L744.00 535.59 L745.00 535.59 L746.00 535.59 L747.00 535.59 L748.00 535.59 L749.00 535.59 L750.00 535.59 L751.00 535.59 L752.00 535.59 L753.00 535.59 L754.00 535.59 L755.00 535.59 L756.00 535.59 L757.00 535.59 L758.00 535.59 L759.00 535.59 L760.00 535.59 L761.00 535.59 L762.00 535.59 L763.00 535.59 L764.00 535.59 L765.00 535.59 L766.00 535.59 L767.00 535.59 L768.00 535.59 L769.00 535.59 L770.00 535.59 L771.00 535.59 L772.00 535.59 L773.00 535.59 L774.00 535.59 L775.00 535.59 L776.00 535.59 L777.00 535.59 L778.00 535.59 L779.00 535.59 L780.00 535.59 L781.00 535.59 L782.00 535.59 L783.00 535.59 L784.00 535.59 L785.00 535.59 L786.00 535.59 L787.00 535.59 L788.00 535.59 L789.00 535.59 L790.00 535.59 L791.00 535.59 L792.00 535.59 L793.00 535.59 L794.00 535.59 L795.00 535.59 L796.00 535.59 L797.00 535.59 L798.00 535.59 L799.00 535.59 L800.00 535.59 L801.00 535.59 L802.00 535.59 L803.00 535.59 L804.00 535.59 L805.00 535.59 L806.00 535.59 L807.00 535.59 L808.00 535.59 L809.00 535.59 L810.00 535.59 L811.00 535.59 L812.00 535.59 L812.45 535.59" stroke="#ff0000"/>
</g>
<rect x="78.1" y="30.05" width="734.35" height="506.34999999999997" fill="none" stroke="#000" stroke-width="1.7"/>
<g stroke="#000" stroke-width="1.0">
<line x1="77.50" y1="536.4" x2="77.50" y2="531.30"/>
<line x1="77.50" y1="30.05" x2="77.50" y2="35.15"/>
<line x1="175.50" y1="536.4" x2="175.50" y2="531.30"/>
<line x1="175.50" y1="30.05" x2="175.50" y2="35.15"/>
<line x1="273.50" y1="536.4" x2="273.50" y2="531.30"/>
<line x1="273.50" y1="30.05" x2="273.50" y2="35.15"/>
<line x1="371.50" y1="536.4" x2="371.50" y2="531.30"/>
<line x1="371.50" y1="30.05" x2="371.50" y2="35.15"/>
<line x1="469.50" y1="536.4" x2="469.50" y2="531.30"/>
<line x1="469.50" y1="30.05" x2="469.50" y2="35.15"/>
<line x1="567.50" y1="536.4" x2="567.50" y2="531.30"/>
<line x1="567.50" y1="30.05" x2="567.50" y2="35.15"/>
<line x1="665.50" y1="536.4" x2="665.50" y2="531.30"/>
<line x1="665.50" y1="30.05" x2="665.50" y2="35.15"/>
<line x1="763.50" y1="536.4" x2="763.50" y2="531.30"/>
<line x1="763.50" y1="30.05" x2="763.50" y2="35.15"/>
<line x1="78.1" y1="536.50" x2="83.20" y2="536.50"/>
<line x1="812.45" y1="536.50" x2="807.35" y2="536.50"/>
<line x1="78.1" y1="452.50" x2="83.20" y2="452.50"/>
<line x1="812.45" y1="452.50" x2="807.35" y2="452.50"/>
<line x1="78.1" y1="367.50" x2="83.20" y2="367.50"/>
<line x1="812.45" y1="367.50" x2="807.35" y2="367.50"/>
<line x1="78.1" y1="283.50" x2="83.20" y2="283.50"/>
<line x1="812.45" y1="283.50" x2="807.35" y2="283.50"/>
<line x1="78.1" y1="198.50" x2="83.20" y2="198.50"/>
<line x1="812.45" y1="198.50" x2="807.35" y2="198.50"/>
<line x1="78.1" y1="114.50" x2="83.20" y2="114.50"/>
<line x1="812.45" y1="114.50" x2="807.35" y2="114.50"/>
<line x1="78.1" y1="30.50" x2="83.20" y2="30.50"/>
<line x1="812.45" y1="30.50" x2="807.35" y2="30.50"/>
</g>
<g font-size="26.4">
<text transform="translate(78.80 560.5) scale(1 1.05)" text-anchor="middle">0</text>
<text transform="translate(176.71 560.5) scale(1 1.05)" text-anchor="middle">10</text>
<text transform="translate(274.63 560.5) scale(1 1.05)" text-anchor="middle">20</text>
<text transform="translate(372.54 560.5) scale(1 1.05)" text-anchor="middle">30</text>
<text transform="translate(470.45 560.5) scale(1 1.05)" text-anchor="middle">40</text>
<text transform="translate(568.37 560.5) scale(1 1.05)" text-anchor="middle">50</text>
<text transform="translate(666.28 560.5) scale(1 1.05)" text-anchor="middle">60</text>
<text transform="translate(764.19 560.5) scale(1 1.05)" text-anchor="middle">70</text>
<text transform="translate(74.4 543.70) scale(1 1.06)" text-anchor="end">0</text>
<text transform="translate(74.4 459.31) scale(1 1.06)" text-anchor="end">1</text>
<text transform="translate(74.4 374.92) scale(1 1.06)" text-anchor="end">2</text>
<text transform="translate(74.4 290.53) scale(1 1.06)" text-anchor="end">3</text>
<text transform="translate(74.4 206.13) scale(1 1.06)" text-anchor="end">4</text>
<text transform="translate(74.4 121.74) scale(1 1.06)" text-anchor="end">5</text>
<text transform="translate(74.4 37.35) scale(1 1.06)" text-anchor="end">6</text>
</g>
<text x="445.5" y="599" font-size="37.4" text-anchor="middle">Years</text>
<text transform="translate(45.2 281.9) rotate(-90)" font-size="37.4" text-anchor="middle">Densities</text>
<rect x="661.4" y="40" width="141" height="92" fill="#fff" stroke="#000" stroke-width="1.39"/>
<line x1="673.6" y1="55.40" x2="706.6" y2="55.40" stroke="#0000ff" stroke-width="4.4"/>
<text x="726.5" y="62.20" font-size="20.3">Healthy</text>
<line x1="673.6" y1="83.90" x2="706.6" y2="83.90" stroke="#bfbf00" stroke-width="4.4"/>
<text x="726.5" y="90.90" font-size="20.3">Latent</text>
<line x1="673.6" y1="112.40" x2="706.6" y2="112.40" stroke="#ff0000" stroke-width="4.4"/>
<text x="726.5" y="119.60" font-size="20.3">Infect</text>
</svg></body></html>
